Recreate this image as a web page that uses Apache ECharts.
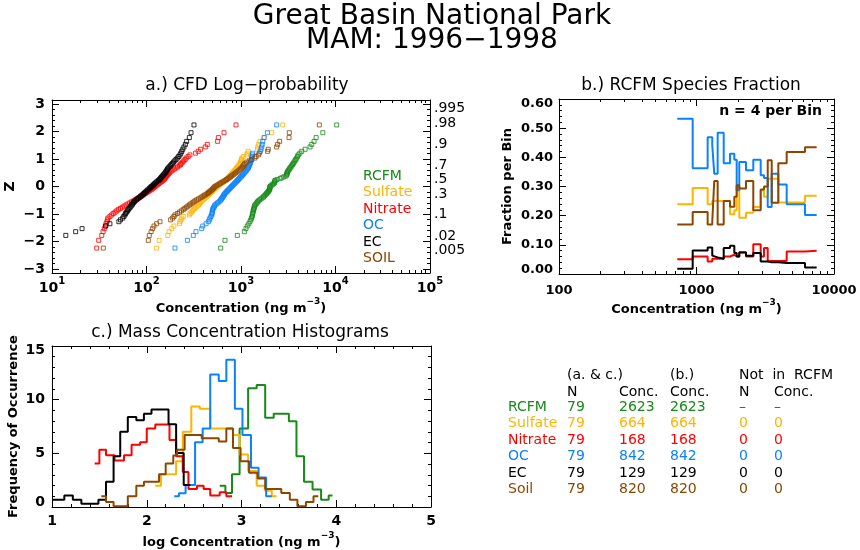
<!DOCTYPE html>
<html>
<head>
<meta charset="utf-8">
<script src="https://cdn.jsdelivr.net/npm/echarts@6/dist/echarts.min.js"></script>
<style>
  html, body { margin: 0; padding: 0; background: #fff; }
  #chart { width: 860px; height: 550px; }
</style>
</head>
<body>
<div id="chart"></div>
<script>
// ---- data ----
const speciesNames = ['RCFM', 'Sulfate', 'Nitrate', 'OC', 'EC', 'SOIL'];

// a.) sorted concentrations (ng/m3), 79 samples each, rank 1..79 (null = not plotted)
const rcfmConc = [610, 677, 914, 1084, 1128, 1165, 1210, 1244, 1270, 1294,
  1310, 1320, 1330, 1340, 1349, 1360, 1372, 1384, 1395, 1406,
  1440, 1470, 1498, 1525, 1570, 1620, 1670, 1726, 1750, 1795,
  1835, 1870, 1900, 1935, 1965, 1995, 2010, 2020, 2025, 2027,
  2080, 2140, 2200, 2250, 2270, 2285, 2291, 2400, 2588, 2700,
  2850, 2992, 3040, 3060, 3075, 3090, 3140, 3200, 3250, 3303,
  3370, 3440, 3510, 3580, 3650, 3720, 3800, 3887, 3960, 4035,
  4200, 4395, 4764, 5380, 5609, 5930, 6236, 7345, 10300];
const sulfateConc = [128, 136, 168, 173, 185, 195, 223, 226, 232, 236,
  245, 284, 290, 300, 308, 313, 323, 333, 344, 354,
  362, 369, 377, 384, 395, 405, 416, 427, 437, 448,
  459, 470, 480, 490, 500, 510, 522, 535, 548, 562,
  577, 592, 608, 624, 643, 663, 684, 705, 719, 734,
  750, 765, 781, 797, 814, 830, 847, 865, 882, 900,
  918, 937, 957, 977, 990, 1000, 1012, 1024, 1059, 1148,
  1175, 1194, 1495, 1503, 1538, 1585, 1767, 2113, 2763];
const nitrateConc = [29.7, 31.2, 33.6, 34.7, 35.8, 36.7, 37.3, 38.2, 38.6, 39.1,
  41, 42.8, 44.5, 46.5, 48.5, 50.4, 53, 55.5, 58, 60.7,
  63.5, 66.5, 69.5, 72.6, 76, 79, 82, 85.4, 88, 91,
  94, 97.2, 100.5, 104, 107, 110.7, 114, 117, 120, 123,
  126.5, 130, 133.5, 137, 141, 145, 149, 153, 155.5, 158,
  160.5, 163, 166.5, 170, 173.5, 177, 183, 190, 197, 205,
  213, 222, 229, 233, 241, 248, 256, 263, 276, 288,
  331, 353, 374, 419, 440, 566, 576, 661, 885];
const ocConc = [200, 271, 313, 334, 384, 394, 427, 452, 462, 470,
  480, 490, 493, 496, 499, 501, 508, 516, 523, 531,
  547, 565, 582, 600, 610, 620, 630, 640, 649, 658,
  668, 677, 691, 705, 720, 735, 750, 765, 780, 796,
  812, 829, 846, 863, 881, 899, 918, 937, 956, 976,
  996, 1016, 1037, 1058, 1080, 1102, 1125, 1148, 1171, 1195,
  1205, 1220, 1235, 1250, 1262, 1275, 1287, 1297, 1310, 1320,
  1330, 1600, 1629, 1656, 1677, 1698, 1754, 1901, 2387];
const ecConc = [null, null, 14.0, 17.8, 20.8, 37, 41, 51, 53, 56,
  57.5, 59, 60, 61.5, 63, 64, 65.5, 67, 68.5, 70,
  71, 72.5, 74, 75.5, 78, 80, 82.5, 85, 87, 89.5,
  92, 94, 96, 98.5, 101, 103, 106, 108, 110.5, 113,
  116, 119, 121, 124, 127, 130, 134, 137, 140, 142,
  145, 148, 151, 154, 157, 160, 162, 165, 167, 170,
  174, 179, 183, 188, 193, 199, 205, 212, 219, 226,
  231, 236, 242, 249, 258, 266, 284, 296, 318];
const soilConc = [34.9, 104.5, 107, 112, 116, 120, 128, 139, 180, 189,
  195, 200, 212, 223, 234, 245, 254, 264, 274, 284,
  294, 305, 316, 326, 340, 354, 369, 384, 397, 411,
  426, 441, 452, 464, 477, 490, 500, 510, 520, 531,
  549, 569, 589, 610, 632, 656, 680, 705, 727, 750,
  773, 796, 821, 846, 873, 900, 928, 957, 986, 1016,
  1037, 1058, 1080, 1102, 1150, 1220, 1298, 1400, 1443, 1527,
  1563, 1913, 1945, 2383, 2443, 2565, 3222, 3244, 6745];

const zTicks = [-3, -2, -1, 0, 1, 2, 3];
const probTicks = [0.995, 0.98, 0.9, 0.7, 0.5, 0.3, 0.1, 0.02, 0.005];
const probTickLabels = ['.995', '.98', '.9', '.7', '.5', '.3', '.1', '.02', '.005'];
const cfdXTicks = [10, 100, 1000, 10000, 100000];
const cfdXTickExps = ['1', '2', '3', '4', '5'];

// b.) RCFM bins (n = 4 per bin): bin edges (ng/m3) and species fraction per bin
const fracBinEdges = [725, 938, 1205, 1302, 1346, 1425, 1577, 1753, 1884, 1960, 2047,
  2290, 2588, 2930, 3097, 3296, 3524, 3935, 4528, 6151, 7480];
const fracSulfate = [.239, .295, .239, .25, .25, .25, .25, .205, .219, .299,
  .193, .21, .23, .287, .265, .327, .327, .245, .245, .268];
const fracNitrate = [.051, .06, .043, .052, .052, .052, .06, .066, .06, .06,
  .075, .06, .102, .06, .089, .045, .045, .045, .077, .08];
const fracOC = [.532, .363, .469, .441, .344, .484, .38, .412, .392, .287,
  .384, .356, .392, .339, .329, .23, .344, .307, .239, .202];
const fracEC = [.018, .081, .091, .063, .057, .052, .089, .097, .072, .06,
  .074, .063, .072, .043, .043, .04, .04, .0375, .0375, .0225];
const fracSoil = [.17, .213, .17, .18, .319, .17, .25, .231, .265, .304,
  .293, .319, .219, .29, .3, .39, .244, .38, .418, .435];
const fracTicks = [100, 1000, 10000];

// c.) histograms: bin edges in log10 concentration and frequency per bin
const histEdgesRcfm = [2.77, 2.83, 2.90, 2.98, 3.07, 3.16, 3.25, 3.34, 3.50, 3.58, 3.66, 3.75, 3.84, 3.92, 3.96];
const histRcfm = [1.98, 1.31, 3.05, 7.32, 11.07, 11.37, 8.32, 8.69, 7.99, 4.73, 2.35, 1.62, 0.67, 1.07];
const histEdgesSulfate = [2.09, 2.15, 2.31, 2.38, 2.47, 2.56, 2.67, 2.91, 2.98, 3.07, 3.16, 3.25, 3.32, 3.37];
const histSulfate = [1.98, 3.05, 4.27, 7.01, 9.36, 9.15, 7.32, 6.71, 4.88, 3.35, 1.98, 1.52, 1.0];
const histEdgesNitrate = [1.45, 1.50, 1.57, 1.66, 1.76, 1.84, 1.93, 2.00, 2.09, 2.24, 2.31, 2.38, 2.44, 2.53, 2.60, 2.67, 2.77, 2.84, 2.90];
const histNitrate = [4.05, 5.34, 4.82, 4.33, 4.82, 5.79, 6.04, 7.32, 7.68, 6.25, 4.73, 3.26, 1.68, 1.98, 1.68, 1.07, 1.37, 1.0];
const histEdgesOC = [2.29, 2.34, 2.41, 2.51, 2.59, 2.67, 2.76, 2.84, 2.93, 3.01, 3.10, 3.18, 3.26, 3.32];
const histOC = [1.0, 1.28, 2.04, 6.04, 7.32, 12.35, 11.74, 13.72, 9.15, 6.71, 3.66, 2.74, 1.0];
const histEdgesEC = [1.00, 1.13, 1.22, 1.31, 1.49, 1.57, 1.65, 1.72, 1.80, 1.89, 1.97, 2.05, 2.23, 2.31, 2.39, 2.46];
const histEC = [0.67, 1.07, 0.67, 0.30, 0.67, 2.35, 4.73, 7.01, 8.38, 8.08, 8.69, 9.09, 7.71, 5.03, 2.04];
const histEdgesSoil = [1.52, 1.57, 1.65, 1.80, 1.89, 1.97, 2.13, 2.20, 2.28, 2.32, 2.40, 2.58, 2.76, 2.84,
  2.91, 2.99, 3.08, 3.17, 3.25, 3.42, 3.51, 3.59, 3.68, 3.76, 3.81];
const histSoil = [1.0, 0.46, 0.06, 1.0, 1.98, 2.35, 3.05, 4.05, 4.79, 5.34, 6.7, 6.4, 6.1, 7.32,
  5.5, 4.27, 3.2, 2.65, 1.68, 1.3, 0.67, 0.06, 0.46, 1.0];

// summary table
const tableNames = ['RCFM', 'Sulfate', 'Nitrate', 'OC', 'EC', 'Soil'];
const tableN = ['79', '79', '79', '79', '79', '79'];
const tableConcAC = ['2623', '664', '168', '842', '129', '820'];
const tableConcB = ['2623', '664', '168', '842', '129', '820'];
const tableNotN = ['\u2013', '0', '0', '0', '0', '0'];
const tableNotConc = ['\u2013', '0', '0', '0', '0', '0'];

// ---- styling ----
const FONT = 'DejaVu Sans';
const colors = ['#178a17', '#ffb400', '#ff0000', '#0a82ff', '#000000', '#8c4600'];

// inverse of the standard normal CDF (Acklam)
function normInv(p) {
  const a = [-3.969683028665376e+01, 2.209460984245205e+02, -2.759285104469687e+02, 1.383577518672690e+02, -3.066479806614716e+01, 2.506628277459239e+00];
  const b = [-5.447609879822406e+01, 1.615858368580409e+02, -1.556989798598866e+02, 6.680131188771972e+01, -1.328068155288572e+01];
  const c = [-7.784894002430293e-03, -3.223964580411365e-01, -2.400758277161838e+00, -2.549732539343734e+00, 4.374664141464968e+00, 2.938163982698783e+00];
  const d = [7.784695709041462e-03, 3.224671290700398e-01, 2.445134137142996e+00, 3.754408661907416e+00];
  const pl = 0.02425;
  let q, r;
  if (p < pl) {
    q = Math.sqrt(-2 * Math.log(p));
    return (((((c[0] * q + c[1]) * q + c[2]) * q + c[3]) * q + c[4]) * q + c[5]) / ((((d[0] * q + d[1]) * q + d[2]) * q + d[3]) * q + 1);
  }
  if (p > 1 - pl) {
    q = Math.sqrt(-2 * Math.log(1 - p));
    return -(((((c[0] * q + c[1]) * q + c[2]) * q + c[3]) * q + c[4]) * q + c[5]) / ((((d[0] * q + d[1]) * q + d[2]) * q + d[3]) * q + 1);
  }
  q = p - 0.5; r = q * q;
  return (((((a[0] * r + a[1]) * r + a[2]) * r + a[3]) * r + a[4]) * r + a[5]) * q / (((((b[0] * r + b[1]) * r + b[2]) * r + b[3]) * r + b[4]) * r + 1);
}

// plotting position i/(N+1) -> Z
function cfdPoints(conc) {
  return conc.map((v, i) => v == null ? null : [v, normInv((i + 1) / (conc.length + 1))])
    .filter(d => d);
}
// horizontal step over each bin
function stepPoints(edges, vals) {
  const pts = vals.map((v, i) => [edges[i], v]);
  pts.push([edges[edges.length - 1], vals[vals.length - 1]]);
  return pts;
}

const probZ = probTicks.map(normInv);
const zMinor = [];
for (let k = -15; k <= 15; k++) if (k % 5 !== 0) zMinor.push(k / 5);
const logMinor = (from, to) => {
  const out = [];
  for (let e = from; e < to; e++) for (let m = 2; m <= 9; m++) out.push(m * Math.pow(10, e));
  return out;
};

function axis(o) {
  const a = {
    type: o.type || 'value',
    gridIndex: o.grid,
    position: o.pos,
    min: o.min,
    max: o.max,
    silent: true,
    axisLine: { show: o.line !== false, onZero: false, lineStyle: { color: '#000', width: 1 } },
    axisTick: { show: true, inside: true, length: o.tickLen || 7, lineStyle: { color: '#000', width: 1 } },
    axisLabel: { show: false },
    splitLine: { show: false }
  };
  if (o.type === 'log') a.logBase = 10;
  if (o.interval != null) a.interval = o.interval;
  if (o.ticks) a.axisTick.customValues = o.ticks;
  if (o.minor) a.minorTick = { show: true, splitNumber: o.minor, length: 3, lineStyle: { color: '#000', width: 1 } };
  if (o.label) {
    a.axisLabel = Object.assign({
      show: true, color: '#000', fontFamily: FONT, fontWeight: 'bold', fontSize: 13,
      showMinLabel: true, showMaxLabel: true
    }, o.label);
  }
  if (o.name) {
    a.name = o.name;
    a.nameLocation = 'middle';
    a.nameGap = o.nameGap;
    a.nameTextStyle = Object.assign({ color: '#000', fontFamily: FONT, fontWeight: 'bold', fontSize: 13 }, o.nameStyle || {});
  }
  return a;
}

const boldRich = (size) => ({
  top: { fontFamily: FONT, fontWeight: 'bold', fontSize: size, color: '#000', padding: [9, 0, 0, 0] },
  bot: { fontFamily: FONT, fontWeight: 'bold', fontSize: size, color: '#000', padding: [0, 0, 9, 0] }
});
const concName = (prefix) => '{n|' + prefix + 'Concentration (ng m}{s|\u22123}{n|)}';
const concNameStyle = {
  rich: {
    n: { fontFamily: FONT, fontWeight: 'bold', fontSize: 13, color: '#000', padding: [5, 0, 0, 0], verticalAlign: 'bottom' },
    s: { fontFamily: FONT, fontWeight: 'bold', fontSize: 9, color: '#000', verticalAlign: 'top' }
  }
};

const grids = [
  { left: 52, top: 100, width: 378, height: 173 },
  { left: 52, top: 100, width: 378, height: 173 },
  { left: 559, top: 99, width: 275, height: 175 },
  { left: 559, top: 99, width: 275, height: 175 },
  { left: 52, top: 346, width: 379, height: 164 }
];

const xAxes = [
  // a.) major
  axis({
    grid: 0, pos: 'bottom', type: 'log', min: 10, max: 100000, ticks: cfdXTicks,
    label: {
      customValues: cfdXTicks, margin: 3,
      formatter: v => {
        const i = cfdXTicks.findIndex(t => Math.abs(Math.log10(t / v)) < 1e-6);
        return '{b|10}{s|' + cfdXTickExps[i] + '}';
      },
      rich: {
        b: { fontFamily: FONT, fontWeight: 'bold', fontSize: 14, color: '#000', padding: [5, 0, 0, 0], verticalAlign: 'bottom' },
        s: { fontFamily: FONT, fontWeight: 'bold', fontSize: 10, color: '#000', verticalAlign: 'top' }
      }
    },
    name: concName(''), nameGap: 24, nameStyle: concNameStyle
  }),
  axis({ grid: 0, pos: 'top', type: 'log', min: 10, max: 100000, ticks: cfdXTicks }),
  // a.) minor
  axis({ grid: 1, pos: 'bottom', type: 'log', min: 10, max: 100000, ticks: logMinor(1, 5), tickLen: 3, line: false }),
  axis({ grid: 1, pos: 'top', type: 'log', min: 10, max: 100000, ticks: logMinor(1, 5), tickLen: 3, line: false }),
  // b.) major
  axis({
    grid: 2, pos: 'bottom', type: 'log', min: 100, max: 10000, ticks: fracTicks,
    label: { customValues: fracTicks, margin: 10, formatter: v => String(Math.round(v)) },
    name: concName(''), nameGap: 19, nameStyle: concNameStyle
  }),
  axis({ grid: 2, pos: 'top', type: 'log', min: 100, max: 10000, ticks: fracTicks }),
  // b.) minor
  axis({ grid: 3, pos: 'bottom', type: 'log', min: 100, max: 10000, ticks: logMinor(2, 4), tickLen: 3, line: false }),
  axis({ grid: 3, pos: 'top', type: 'log', min: 100, max: 10000, ticks: logMinor(2, 4), tickLen: 3, line: false }),
  // c.)
  axis({
    grid: 4, pos: 'bottom', min: 1, max: 5, interval: 1, minor: 5,
    label: { margin: 7, fontSize: 14 },
    name: concName('log '), nameGap: 24, nameStyle: concNameStyle
  }),
  axis({ grid: 4, pos: 'top', min: 1, max: 5, interval: 1, minor: 5 })
];

const yAxes = [
  // a.)
  axis({
    grid: 0, pos: 'left', min: -3.15, max: 3.15, ticks: zTicks,
    label: { customValues: zTicks, margin: 7, fontSize: 14, formatter: v => String(v).replace('-', '\u2212') },
    name: 'Z', nameGap: 35, nameStyle: { fontSize: 14 }
  }),
  axis({
    grid: 0, pos: 'right', min: -3.15, max: 3.15, ticks: zTicks,
    label: {
      customValues: probZ, margin: 4, fontWeight: 'normal', fontSize: 14, verticalAlign: 'bottom',
      formatter: v => probTickLabels[probZ.findIndex(z => Math.abs(z - v) < 1e-6)]
    }
  }),
  axis({ grid: 1, pos: 'left', min: -3.15, max: 3.15, ticks: zMinor, tickLen: 3, line: false }),
  axis({ grid: 1, pos: 'right', min: -3.15, max: 3.15, ticks: zMinor, tickLen: 3, line: false }),
  // b.)
  axis({
    grid: 2, pos: 'left', min: 0, max: 0.6, interval: 0.1, minor: 5,
    label: {
      margin: 6, rich: boldRich(13),
      formatter: v => {
        const s = v.toFixed(2);
        if (v > 0.599) return '{top|' + s + '}';
        if (v < 0.001) return '{bot|' + s + '}';
        return s;
      }
    },
    name: 'Fraction per Bin', nameGap: 45
  }),
  axis({ grid: 2, pos: 'right', min: 0, max: 0.6, interval: 0.1, minor: 5 }),
  { gridIndex: 3, type: 'value', show: false, min: 0, max: 1 },
  // c.)
  axis({
    grid: 4, pos: 'left', min: 0, max: 15, interval: 5, minor: 5,
    label: {
      margin: 7, fontSize: 14, rich: boldRich(14),
      formatter: v => {
        if (v > 14.9) return '{top|' + v + '}';
        if (v < 0.1) return '{bot|' + v + '}';
        return String(v);
      }
    },
    name: 'Frequency of Occurrence', nameGap: 32
  }),
  axis({ grid: 4, pos: 'right', min: 0, max: 15, interval: 5, minor: 5 })
];

const cfdSets = [rcfmConc, sulfateConc, nitrateConc, ocConc, ecConc, soilConc];
const series = [];
cfdSets.forEach((conc, i) => {
  series.push({
    type: 'scatter', name: speciesNames[i], xAxisIndex: 0, yAxisIndex: 0,
    data: cfdPoints(conc), symbol: 'rect', symbolSize: 4, clip: true,
    itemStyle: { color: 'rgba(0,0,0,0)', borderColor: colors[i], borderWidth: 1 },
    silent: true
  });
});
const fracSets = [null, fracSulfate, fracNitrate, fracOC, fracEC, fracSoil];
fracSets.forEach((vals, i) => {
  if (!vals) return;
  series.push({
    type: 'line', xAxisIndex: 4, yAxisIndex: 4, step: 'end', showSymbol: false, symbol: 'none',
    data: stepPoints(fracBinEdges, vals), lineStyle: { color: colors[i], width: 2 }, silent: true
  });
});
const histSets = [[histEdgesRcfm, histRcfm], [histEdgesSulfate, histSulfate], [histEdgesNitrate, histNitrate],
  [histEdgesOC, histOC], [histEdgesEC, histEC], [histEdgesSoil, histSoil]];
histSets.forEach(([edges, vals], i) => {
  series.push({
    type: 'line', xAxisIndex: 8, yAxisIndex: 7, step: 'end', showSymbol: false, symbol: 'none',
    data: stepPoints(edges, vals), lineStyle: { color: colors[i], width: 2 }, silent: true
  });
});

// text: titles, legend of a.), table
const txt = (x, y, text, size, color, align, weight) => ({
  type: 'text', x, y, silent: true,
  style: {
    text, fill: color || '#000', font: (weight || 'normal') + ' ' + size + 'px "' + FONT + '"',
    textAlign: align || 'left', textVerticalAlign: 'middle', align: align || 'left', verticalAlign: 'middle'
  }
});
const graphics = [
  txt(432, 17, 'Great Basin National Park', 28, '#000', 'center'),
  txt(432, 41, 'MAM: 1996\u22121998', 28, '#000', 'center'),
  txt(247, 86, 'a.) CFD Log\u2212probability', 17, '#000', 'center'),
  txt(691, 86, 'b.) RCFM Species Fraction', 17, '#000', 'center'),
  txt(240, 333, 'c.) Mass Concentration Histograms', 17, '#000', 'center'),
  txt(822, 111, 'n = 4 per Bin', 14, '#000', 'right', 'bold')
];
const legendY = [176, 192, 209, 225, 242, 258];
speciesNames.forEach((n, i) => graphics.push(txt(363, legendY[i], n, 14, colors[i])));

const colX = [508, 567, 619, 670, 739, 774];
graphics.push(txt(colX[1], 375, '(a. & c.)', 14));
graphics.push(txt(colX[3], 375, '(b.)', 14));
graphics.push(txt(colX[4], 375, 'Not  in  RCFM', 14));
graphics.push(txt(colX[1], 392, 'N', 14));
graphics.push(txt(colX[2], 392, 'Conc.', 14));
graphics.push(txt(colX[3], 392, 'Conc.', 14));
graphics.push(txt(colX[4], 392, 'N', 14));
graphics.push(txt(colX[5], 392, 'Conc.', 14));
const rowY = [407, 423.5, 440, 456.5, 473, 489.5];
tableNames.forEach((n, i) => {
  const row = [n, tableN[i], tableConcAC[i], tableConcB[i], tableNotN[i], tableNotConc[i]];
  row.forEach((t, j) => graphics.push(txt(colX[j], rowY[i], t, 14, colors[i])));
});

const chart = echarts.init(document.getElementById('chart'), null, { renderer: 'canvas' });
chart.setOption({
  animation: false,
  backgroundColor: '#fff',
  grid: grids,
  xAxis: xAxes,
  yAxis: yAxes,
  series: series,
  graphic: { elements: graphics }
});
</script>
</body>
</html>
